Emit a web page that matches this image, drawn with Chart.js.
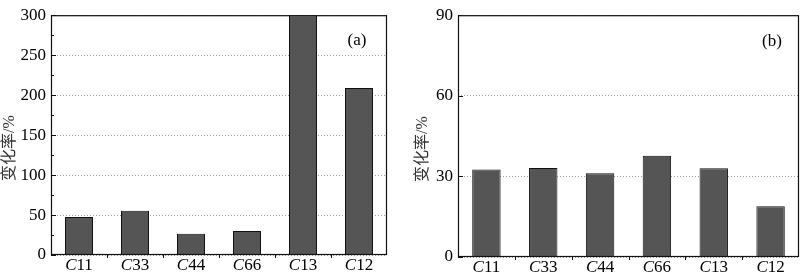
<!DOCTYPE html>
<html>
<head>
<meta charset="utf-8">
<script src="https://cdn.jsdelivr.net/npm/chart.js@4/dist/chart.umd.min.js"></script>
<style>
  html, body { margin: 0; padding: 0; background: #fff; }
  .panel { position: absolute; top: 0; width: 400px; height: 276px; }
</style>
</head>
<body>
<div class="panel" style="left:0"><canvas id="chartA"></canvas></div>
<div class="panel" style="left:400px"><canvas id="chartB"></canvas></div>
<script>
// data
const categories = ['C11', 'C33', 'C44', 'C66', 'C13', 'C12'];
const valuesA = [47.5, 55.5, 26.5, 30, 300, 209];
const valuesB = [32.6, 33.1, 31.2, 37.7, 33.0, 18.9];
const ticksA = [0, 50, 100, 150, 200, 250, 300];
const ticksB = [0, 30, 60, 90];

const SERIF = '"Liberation Serif", "Noto Sans CJK SC", serif';
const axisTitle = '变化率/%';

// frame, inward ticks, mixed-italic category labels, axis title, panel tag
const decor = {
  id: 'decor',
  afterDraw(chart, args, opts) {
    const ctx = chart.ctx;
    const a = chart.chartArea;
    const xs = chart.scales.x, ys = chart.scales.y;
    ctx.save();
    ctx.strokeStyle = '#111';
    ctx.lineWidth = 1.2;
    ctx.strokeRect(a.left + 0.5, a.top + 0.5, a.right - a.left - 1, a.bottom - a.top - 1);

    // major ticks (inside)
    ctx.lineWidth = 1;
    ctx.beginPath();
    ys.ticks.forEach(t => {
      const y = Math.round(ys.getPixelForValue(t.value)) + 0.5;
      ctx.moveTo(a.left, y); ctx.lineTo(a.left + 5, y);
    });
    if (opts.minor) {
      for (let i = 0; i < ys.ticks.length - 1; i++) {
        const v = (ys.ticks[i].value + ys.ticks[i + 1].value) / 2;
        const y = Math.round(ys.getPixelForValue(v)) + 0.5;
        ctx.moveTo(a.left, y); ctx.lineTo(a.left + 3, y);
      }
    }
    // x boundary ticks below axis
    const step = xs.getPixelForValue(1) - xs.getPixelForValue(0);
    for (let i = 1; i < categories.length; i++) {
      const x = Math.round(xs.getPixelForValue(i) - step / 2) + 0.5;
      ctx.moveTo(x, a.bottom); ctx.lineTo(x, a.bottom + 3);
    }
    ctx.stroke();

    // category labels: italic C + upright digits
    ctx.fillStyle = '#000';
    ctx.textBaseline = 'alphabetic';
    ctx.textAlign = 'left';
    categories.forEach((lab, i) => {
      const cx = xs.getPixelForValue(i);
      const head = lab.charAt(0), tail = lab.slice(1);
      ctx.font = 'italic 17px ' + SERIF;
      const w1 = ctx.measureText(head).width;
      ctx.font = '17px ' + SERIF;
      const w2 = ctx.measureText(tail).width;
      const x0 = cx - (w1 + w2) / 2;
      ctx.font = 'italic 17px ' + SERIF;
      ctx.fillText(head, x0, a.bottom + 15);
      ctx.font = '17px ' + SERIF;
      ctx.fillText(tail, x0 + w1, a.bottom + 15);
    });

    // y axis title
    ctx.save();
    ctx.translate(opts.titleX, (a.top + a.bottom) / 2 + 13);
    ctx.rotate(-Math.PI / 2);
    ctx.textAlign = 'center';
    ctx.textBaseline = 'middle';
    ctx.fillStyle = '#333';
    ctx.font = '16px ' + SERIF;
    ctx.fillText(axisTitle, 0, 0);
    ctx.restore();

    // panel tag
    ctx.font = '17px ' + SERIF;
    ctx.textAlign = 'center';
    ctx.textBaseline = 'middle';
    ctx.fillText(opts.tag, a.right - opts.tagDx, a.top + opts.tagDy);
    ctx.restore();
  }
};

function makeChart(id, values, tickValues, max, cfg) {
  return new Chart(document.getElementById(id), {
    type: 'bar',
    data: {
      labels: categories,
      datasets: [{
        data: values,
        backgroundColor: '#555555',
        borderColor: '#111111',
        borderWidth: 1,
        barPercentage: 0.5,
        categoryPercentage: 1.0
      }]
    },
    options: {
      responsive: true,
      maintainAspectRatio: false,
      animation: false,
      layout: { padding: { top: cfg.padTop, right: cfg.padRight, left: 0, bottom: 0 } },
      plugins: {
        legend: { display: false },
        tooltip: { enabled: false },
        decor: { minor: cfg.minor, tag: cfg.tag, tagDx: cfg.tagDx, tagDy: cfg.tagDy, titleX: cfg.titleX }
      },
      scales: {
        x: {
          grid: { display: false },
          border: { display: false },
          ticks: { display: false },
          afterFit: s => { s.height = cfg.xHeight; }
        },
        y: {
          min: 0,
          max: max,
          afterBuildTicks: s => { s.ticks = tickValues.map(v => ({ value: v })); },
          grid: { color: '#a0a0a0', lineWidth: 1, drawTicks: false },
          border: { display: false, dash: [1, 2] },
          ticks: {
            padding: 5,
            color: '#000',
            font: { family: SERIF, size: 17 }
          },
          afterFit: s => { s.width = cfg.yWidth; }
        }
      }
    },
    plugins: [decor]
  });
}

makeChart('chartA', valuesA, ticksA, 300, {
  padTop: 6, padRight: 13, xHeight: 21, yWidth: 51, titleX: 10,
  minor: true, tag: '(a)', tagDx: 30, tagDy: 25
});
makeChart('chartB', valuesB, ticksB, 90, {
  padTop: 4, padRight: 1, xHeight: 19, yWidth: 58, titleX: 23,
  minor: false, tag: '(b)', tagDx: 27, tagDy: 26
});
</script>
</body>
</html>
